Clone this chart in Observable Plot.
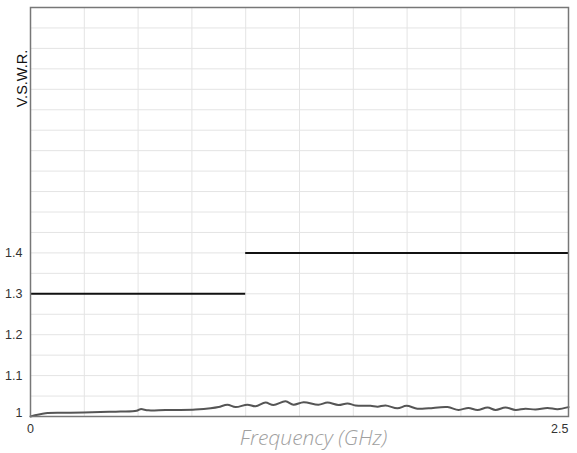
<!DOCTYPE html>
<html>
<head>
<meta charset="utf-8">
<script src="https://cdn.jsdelivr.net/npm/d3@7"></script>
<script src="https://cdn.jsdelivr.net/npm/@observablehq/plot@0.6"></script>
<style>
  html, body { margin: 0; padding: 0; background: #fff; }
</style>
</head>
<body>
<div id="chart"></div>
<script>
// Measured V.S.W.R. trace (frequency in GHz)
const freq = [0, 0.070, 0.186, 0.325, 0.418, 0.493, 0.511, 0.548, 0.627, 0.697, 0.767, 0.837, 0.874, 0.915, 0.953,
  1.008, 1.046, 1.092, 1.129, 1.185, 1.222, 1.269, 1.338, 1.380, 1.431, 1.473, 1.510, 1.580, 1.613, 1.650,
  1.705, 1.747, 1.798, 1.850, 1.938, 1.989, 2.035, 2.077, 2.124, 2.161, 2.207, 2.254, 2.300, 2.347, 2.402, 2.449, 2.5];
const vswr = [1.000, 1.008, 1.009, 1.011, 1.012, 1.014, 1.018, 1.015, 1.016, 1.016, 1.017, 1.020, 1.023, 1.029, 1.023,
  1.029, 1.025, 1.034, 1.028, 1.037, 1.029, 1.035, 1.029, 1.034, 1.028, 1.032, 1.027, 1.026, 1.024, 1.027,
  1.020, 1.026, 1.019, 1.020, 1.023, 1.016, 1.021, 1.016, 1.022, 1.016, 1.022, 1.016, 1.019, 1.017, 1.021, 1.018, 1.023];

// Specification limit (step)
const limitFrom = [0, 1.0];
const limitTo = [1.0, 2.5];
const limitVswr = [1.3, 1.4];

// Axis ticks
const xTickLabels = [0, 2.5];
const yTickLabels = [1, 1.1, 1.2, 1.3, 1.4];
const xGrid = d3.range(0, 2.5001, 0.25);
const yGrid = d3.range(1, 2.0001, 0.05);

const xTitle = "Frequency (GHz)";
const yTitle = "V.S.W.R.";

const idx = d3.range(freq.length);
const limIdx = d3.range(limitVswr.length);

const chart = Plot.plot({
  width: 577,
  height: 453,
  marginLeft: 30,
  marginRight: 9,
  marginTop: 7,
  marginBottom: 37,
  x: { domain: [0, 2.5] },
  y: { domain: [1, 2] },
  style: { fontFamily: "'Liberation Sans', Arial, sans-serif", fontSize: "12.5px", color: "#333", background: "#fff" },
  marks: [
    Plot.gridX(xGrid, { stroke: "#e4e4e4", strokeOpacity: 1 }),
    Plot.gridY(yGrid, { stroke: "#e4e4e4", strokeOpacity: 1 }),
    Plot.ruleY(limIdx, { y: i => limitVswr[i], x1: i => limitFrom[i], x2: i => limitTo[i], stroke: "#111", strokeWidth: 2 }),
    Plot.line(idx, { x: i => freq[i], y: i => vswr[i], curve: "catmull-rom", stroke: "#555", strokeWidth: 2 }),
    Plot.frame({ stroke: "#777", strokeWidth: 1.5 }),
    Plot.axisY(yTickLabels.slice(1), { tickSize: 0, tickPadding: 8, label: null, tickFormat: d => String(d) }),
    Plot.axisY(yTickLabels.slice(0, 1), { tickSize: 0, tickPadding: 8, dy: -4, label: null, tickFormat: d => String(d) }),
    Plot.axisX(xTickLabels.slice(0, 1), { tickSize: 0, tickPadding: 7.5, label: null, tickFormat: d => String(d) }),
    Plot.axisX(xTickLabels.slice(1), { tickSize: 0, tickPadding: 7.5, textAnchor: "end", label: null, tickFormat: d => String(d) }),
    Plot.text([xTitle], { frameAnchor: "bottom", lineAnchor: "middle", dy: 22, dx: 14, fontFamily: "'Open Sans', sans-serif", fontStyle: "italic", fontWeight: 300, fontSize: 21, fill: "#a0a0a0" }),
    Plot.text([yTitle], { frameAnchor: "top-left", textAnchor: "middle", lineAnchor: "middle", rotate: -90, dx: -8, dy: 71, fontSize: 14.5, fill: "#111" })
  ]
});
document.getElementById("chart").appendChild(chart);
</script>
</body>
</html>
